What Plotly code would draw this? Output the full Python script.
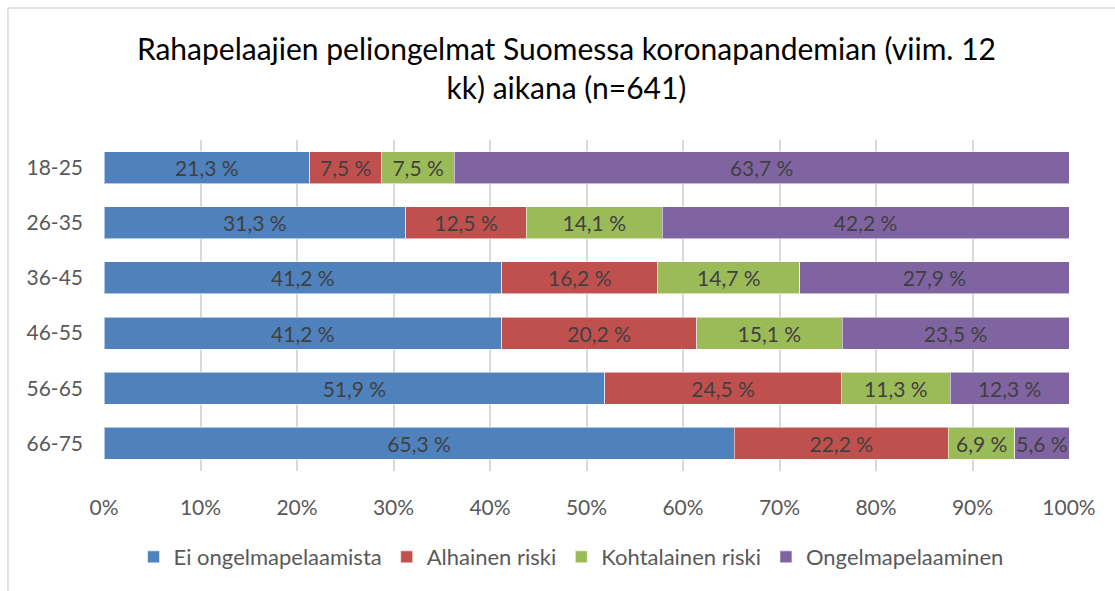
import plotly.graph_objects as go

# Age groups (top to bottom) and the share of each risk class, in percent
age_groups = ["18-25", "26-35", "36-45", "46-55", "56-65", "66-75"]
ei_ongelmapelaamista = [21.3, 31.3, 41.2, 41.2, 51.9, 65.3]
alhainen_riski = [7.5, 12.5, 16.2, 20.2, 24.5, 22.2]
kohtalainen_riski = [7.5, 14.1, 14.7, 15.1, 11.3, 6.9]
ongelmapelaaminen = [63.7, 42.2, 27.9, 23.5, 12.3, 5.6]

series_names = ["Ei ongelmapelaamista", "Alhainen riski", "Kohtalainen riski", "Ongelmapelaaminen"]
series_values = [ei_ongelmapelaamista, alhainen_riski, kohtalainen_riski, ongelmapelaaminen]
series_colors = ["#4F81BD", "#C0504D", "#9BBB59", "#8064A2"]

x_ticks = list(range(0, 101, 10))
x_tick_labels = [f"{t}%" for t in x_ticks]

FONT = "Lato"
TEXT_GREY = "#595959"


def fi_pct(v):
    return f"{v:.1f}".replace(".", ",") + " %"


fig = go.Figure()
for name, vals, col in zip(series_names, series_values, series_colors):
    fig.add_trace(go.Bar(
        name=name,
        y=age_groups,
        x=vals,
        orientation="h",
        marker=dict(color=col, line=dict(color="rgba(255,255,255,0.55)", width=1)),
        text=[fi_pct(v) for v in vals],
        textposition="inside",
        insidetextanchor="middle",
        constraintext="none",
        textfont=dict(family=FONT, size=21, color="#404040"),
        hoverinfo="skip",
    ))

fig.update_layout(
    width=1115,
    height=591,
    barmode="stack",
    barnorm="percent",
    bargap=0.42,
    plot_bgcolor="white",
    paper_bgcolor="white",
    margin=dict(l=104, r=46, t=140, b=120),
    title=dict(
        text="Rahapelaajien peliongelmat Suomessa koronapandemian (viim. 12<br>kk) aikana (n=641)",
        x=0.508, xanchor="center", xref="container",
        y=0.898, yanchor="middle", yref="container",
        font=dict(family=FONT, size=30, color="#000000"),
    ),
    font=dict(family=FONT, color=TEXT_GREY),
    showlegend=True,
    legend=dict(
        orientation="h",
        traceorder="normal",
        x=0.484, xanchor="center",
        y=-0.26, yanchor="middle",
        font=dict(family=FONT, size=22, color=TEXT_GREY),
        itemwidth=30,
    ),
    shapes=[
        # outer chart frame: left and top edges
        dict(type="line", xref="paper", yref="paper",
             x0=-0.0995, x1=-0.0995, y0=-0.5, y1=1.399,
             line=dict(color="#D9D9D9", width=1.5)),
        dict(type="line", xref="paper", yref="paper",
             x0=-0.0995, x1=1.2, y0=1.399, y1=1.399,
             line=dict(color="#D9D9D9", width=1.5)),
    ],
)

fig.update_xaxes(
    range=[0, 100],
    tickvals=x_ticks,
    ticktext=x_tick_labels,
    showgrid=True,
    gridcolor="#D9D9D9",
    gridwidth=1.5,
    zeroline=False,
    showline=False,
    tickfont=dict(family=FONT, size=21, color=TEXT_GREY),
    ticklabelstandoff=22,
    fixedrange=True,
)
fig.update_yaxes(
    autorange="reversed",
    showgrid=False,
    showline=False,
    tickfont=dict(family=FONT, size=21, color=TEXT_GREY),
    ticklabelstandoff=20,
    fixedrange=True,
)

fig.write_html("out.html")
